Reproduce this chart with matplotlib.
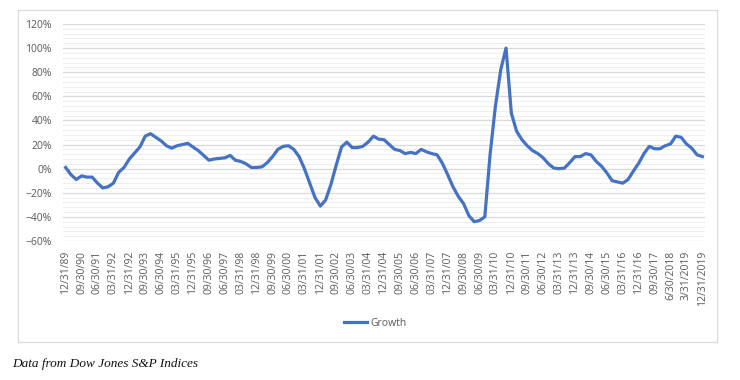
import numpy as np
import matplotlib
matplotlib.use("Agg")
from matplotlib import pyplot as plt
from matplotlib.ticker import PercentFormatter, MultipleLocator
from matplotlib.patches import Rectangle

# quarterly growth, 12/31/89 .. 12/31/2019 (percent)
growth = [1, -5, -9, -6, -7, -7, -12, -16, -15, -12,
          -3, 1, 8, 13, 18, 27, 29, 26, 23, 19,
          17, 19, 20, 21, 18, 15, 11, 7, 8, 8.5,
          9, 11, 7, 6, 4, 1, 1, 1.5, 5, 10,
          16, 18.5, 19, 16, 10, 0, -12, -24, -31, -26,
          -13, 3, 18, 22, 17.5, 17.5, 18.5, 22, 27, 24.5,
          24, 20, 16, 15, 12.5, 13.5, 12.5, 16, 14, 12.5,
          11.5, 4.5, -5, -15, -23, -29, -39, -44, -43, -40,
          12, 52, 82, 100, 46, 31, 24, 19, 15, 12.5,
          9, 4, 0.5, 0, 0.5, 5, 10, 10, 12.5, 11.5,
          6, 2, -3.5, -10, -11, -12, -9, -2, 4.5, 12.5,
          18.5, 16.5, 16.5, 19, 20.5, 27, 26, 20.5, 17, 11.5,
          10]

tick_labels = ["12/31/89", "09/30/90", "06/30/91", "03/31/92", "12/31/92",
               "09/30/93", "06/30/94", "03/31/95", "12/31/95", "09/30/96",
               "06/30/97", "03/31/98", "12/31/98", "09/30/99", "06/30/00",
               "03/31/01", "12/31/01", "09/30/02", "06/30/03", "03/31/04",
               "12/31/04", "09/30/05", "06/30/06", "03/31/07", "12/31/07",
               "09/30/08", "06/30/09", "03/31/10", "12/31/10", "09/30/11",
               "06/30/12", "03/31/13", "12/31/13", "09/30/14", "06/30/15",
               "03/31/16", "12/31/16", "09/30/17", "6/30/2018", "3/31/2019",
               "12/31/2019"]
tick_step = 3

plt.rcParams['font.family'] = ['Open Sans', 'DejaVu Sans']

W, H = 740, 380
fig = plt.figure(figsize=(W / 100, H / 100), dpi=100)
ax = fig.add_axes([63 / W, 1 - 241 / H, (705 - 63) / W, (241 - 24) / H])

x = np.arange(len(growth))
line, = ax.plot(x, growth, color='#4472C4', lw=2.3, solid_joinstyle='round', label='Growth')

ax.set_xlim(-0.5, len(growth) - 0.5)
ax.set_ylim(-60, 120)
ax.yaxis.set_major_locator(MultipleLocator(20))
ax.yaxis.set_minor_locator(MultipleLocator(4))
ax.yaxis.set_major_formatter(PercentFormatter(decimals=0))
ax.grid(axis='y', which='major', color='#D9D9D9', lw=0.9)
ax.grid(axis='y', which='minor', color='#EEEEEE', lw=0.7)
ax.set_axisbelow(True)

ax.set_xticks(x[::tick_step])
ax.set_xticklabels(tick_labels, rotation=90, fontsize=7.5, color='#595959')
ax.tick_params(axis='y', labelsize=7.5, labelcolor='#595959', length=0, which='both', pad=8)
ax.tick_params(axis='x', length=0, pad=7)
for s in ax.spines.values():
    s.set_visible(False)

fig.legend(handles=[line], labels=['Growth'], loc='center', bbox_to_anchor=(375 / W, 1 - 323 / H),
           frameon=False, fontsize=7.5, handlelength=2.2, handletextpad=0.3, labelcolor='#595959')

fig.patches.append(Rectangle((18 / W, 1 - 342 / H), (717 - 18) / W, (342 - 10) / H,
                             transform=fig.transFigure, fill=False, edgecolor='#D9D9D9', lw=0.9))

fig.text(12 / W, 1 - 364 / H, "Data from Dow Jones S&P Indices", fontsize=9.5, style='italic',
         family=['Liberation Serif', 'DejaVu Serif'], va='center', color='#111111')

fig.savefig('out.png', dpi=100, facecolor='white')
